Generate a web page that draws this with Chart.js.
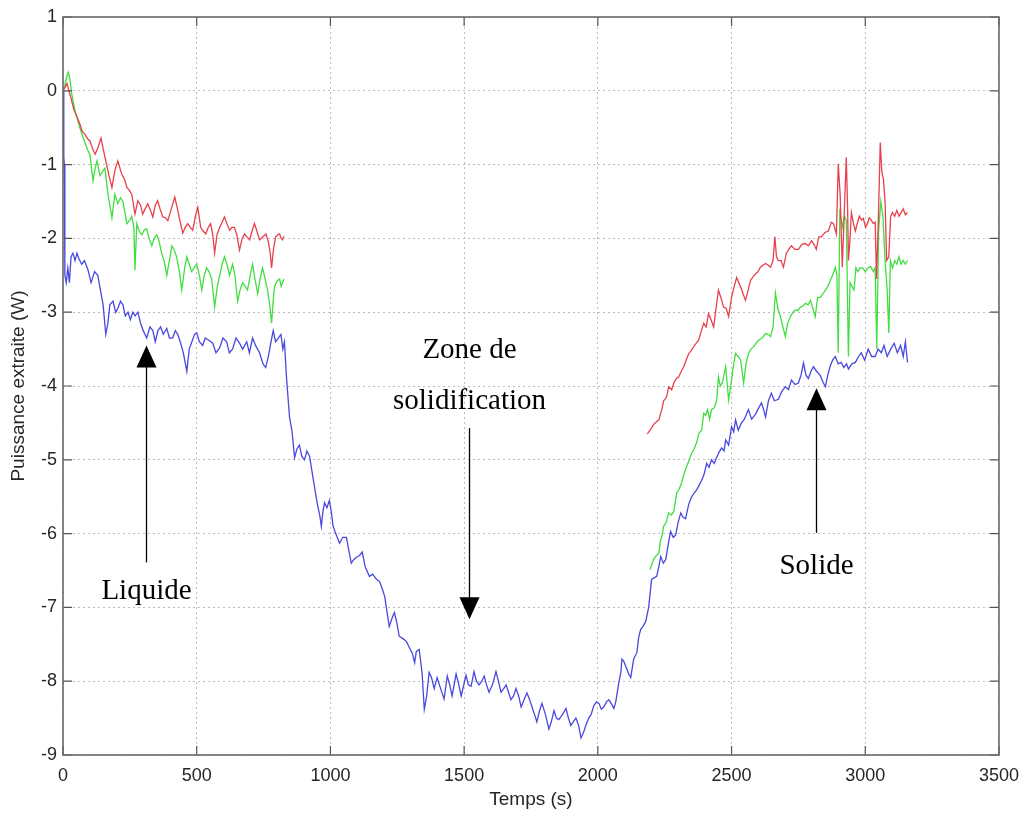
<!DOCTYPE html>
<html>
<head>
<meta charset="utf-8">
<script src="https://cdn.jsdelivr.net/npm/chart.js@4"></script>
<style>
  html, body { margin: 0; padding: 0; background: #fff; }
  canvas { display: block; }
</style>
</head>
<body>
<canvas id="chart" width="1029" height="815"></canvas>
<script>
// axis ticks
const xTicks = [0, 500, 1000, 1500, 2000, 2500, 3000, 3500];
const yTicks = [-9, -8, -7, -6, -5, -4, -3, -2, -1, 0, 1];

// blue curve (one piece)
const blueT = [0,3,5,7,12,18,24,30,37,45,52,60,70,80,93,105,118,130,140,150,160,168,175,187,197,205,215,224,233,243,252,261,270,280,290,300,313,325,336,345,355,365,375,388,398,410,420,429,440,450,463,472,482,492,500,510,522,532,545,560,572,586,598,612,622,634,647,660,672,687,697,709,720,735,748,758,768,778,786,795,805,815,822,828,836,847,856,866,875,884,893,903,912,922,933,942,951,960,966,972,978,987,996,1003,1010,1020,1034,1046,1060,1070,1078,1088,1097,1108,1119,1130,1146,1158,1172,1184,1194,1203,1209,1220,1230,1239,1248,1257,1270,1284,1296,1306,1315,1321,1332,1343,1351,1360,1369,1378,1388,1399,1412,1425,1437,1446,1455,1470,1480,1489,1507,1516,1526,1537,1546,1556,1566,1575,1584,1593,1606,1619,1628,1638,1648,1657,1666,1675,1685,1694,1704,1713,1724,1735,1745,1754,1763,1772,1782,1791,1804,1817,1826,1836,1845,1854,1868,1881,1890,1899,1908,1918,1928,1937,1946,1955,1966,1975,1985,1995,2004,2013,2022,2032,2041,2050,2060,2067,2078,2086,2090,2097,2108,2115,2123,2134,2146,2153,2160,2170,2179,2190,2201,2210,2220,2228,2235,2245,2254,2263,2272,2282,2291,2300,2310,2319,2328,2340,2351,2360,2369,2378,2388,2397,2407,2416,2425,2435,2444,2453,2463,2472,2478,2489,2500,2508,2515,2525,2537,2548,2563,2575,2590,2601,2612,2620,2627,2638,2649,2660,2675,2687,2701,2713,2724,2737,2750,2760,2769,2778,2787,2797,2806,2818,2832,2842,2851,2860,2869,2878,2888,2899,2910,2920,2930,2937,2950,2963,2975,2985,2998,3011,3024,3037,3048,3060,3070,3082,3095,3108,3120,3132,3142,3150,3158];
const blueV = [0,-0.9,-1.0,-2.5,-2.6,-2.4,-2.6,-2.25,-2.2,-2.3,-2.2,-2.28,-2.35,-2.3,-2.42,-2.6,-2.45,-2.5,-2.7,-2.9,-3.3,-3.15,-2.9,-2.85,-3.0,-2.95,-2.85,-2.9,-3.05,-3.0,-3.1,-3.0,-3.05,-3.0,-3.15,-3.25,-3.35,-3.2,-3.25,-3.4,-3.25,-3.2,-3.3,-3.22,-3.35,-3.35,-3.25,-3.3,-3.42,-3.55,-3.8,-3.5,-3.4,-3.3,-3.28,-3.4,-3.45,-3.35,-3.38,-3.42,-3.55,-3.48,-3.35,-3.4,-3.55,-3.5,-3.35,-3.42,-3.5,-3.4,-3.55,-3.35,-3.45,-3.55,-3.7,-3.75,-3.6,-3.4,-3.25,-3.4,-3.35,-3.3,-3.5,-3.4,-3.9,-4.42,-4.6,-4.97,-4.85,-4.8,-4.95,-5.0,-4.88,-4.95,-5.2,-5.4,-5.6,-5.75,-5.9,-5.7,-5.58,-5.65,-5.55,-5.7,-5.9,-6.0,-6.13,-6.05,-6.05,-6.25,-6.4,-6.35,-6.32,-6.3,-6.25,-6.45,-6.58,-6.55,-6.62,-6.65,-6.75,-6.85,-7.0,-7.26,-7.15,-7.07,-7.2,-7.39,-7.42,-7.46,-7.55,-7.62,-7.75,-7.6,-7.57,-7.9,-8.38,-8.2,-7.88,-7.95,-8.1,-7.95,-8.1,-8.24,-7.93,-8.05,-8.2,-7.9,-8.05,-8.2,-7.92,-8.05,-8.07,-7.87,-8.0,-8.05,-8.0,-7.93,-8.05,-8.15,-8.05,-7.87,-8.0,-8.15,-8.1,-8.05,-8.15,-8.25,-8.2,-8.1,-8.2,-8.35,-8.25,-8.16,-8.25,-8.35,-8.45,-8.55,-8.4,-8.3,-8.45,-8.65,-8.55,-8.4,-8.5,-8.52,-8.45,-8.37,-8.5,-8.6,-8.55,-8.5,-8.6,-8.77,-8.7,-8.6,-8.5,-8.45,-8.33,-8.28,-8.3,-8.38,-8.35,-8.28,-8.25,-8.3,-8.37,-8.28,-8.03,-7.88,-7.7,-7.73,-7.83,-7.9,-7.95,-7.7,-7.61,-7.4,-7.3,-7.25,-7.19,-7.0,-6.62,-6.6,-6.58,-6.45,-6.31,-6.4,-6.35,-6.15,-5.97,-6.05,-6.02,-5.85,-5.72,-5.78,-5.8,-5.6,-5.5,-5.45,-5.41,-5.35,-5.28,-5.2,-5.05,-5.1,-5.0,-5.05,-4.97,-4.9,-4.84,-4.88,-4.73,-4.8,-4.55,-4.62,-4.46,-4.6,-4.5,-4.45,-4.32,-4.45,-4.38,-4.3,-4.23,-4.32,-4.42,-4.2,-4.1,-4.2,-4.18,-4.08,-4.01,-4.05,-3.92,-3.98,-3.96,-3.85,-3.69,-3.85,-3.9,-3.8,-3.74,-3.8,-3.86,-3.95,-4.01,-3.85,-3.73,-3.65,-3.6,-3.7,-3.68,-3.75,-3.7,-3.77,-3.7,-3.68,-3.6,-3.55,-3.65,-3.5,-3.6,-3.6,-3.5,-3.55,-3.45,-3.6,-3.5,-3.42,-3.55,-3.45,-3.6,-3.4,-3.68];

// green curve, liquid part then solid part
const greenT1 = [0,8,15,20,26,33,45,55,63,72,82,92,101,112,120,127,138,147,157,168,183,194,205,215,224,239,250,257,265,269,276,285,295,305,313,322,332,341,351,360,369,378,388,398,407,415,425,435,444,455,463,472,481,490,500,510,519,528,537,546,556,567,577,586,595,604,613,623,634,643,653,662,672,681,690,700,709,718,728,737,746,756,765,773,780,786,791,800,810,816,821,826];
const greenV1 = [0,0.1,0.2,0.25,0.15,-0.05,-0.27,-0.4,-0.5,-0.6,-0.7,-0.8,-0.87,-1.22,-1.05,-0.95,-1.15,-1.1,-1.05,-1.4,-1.72,-1.4,-1.53,-1.45,-1.5,-1.8,-1.75,-1.7,-1.85,-2.43,-1.8,-1.9,-1.95,-1.88,-1.87,-2.0,-2.1,-2.0,-1.95,-2.05,-2.2,-2.3,-2.5,-2.3,-2.1,-2.15,-2.25,-2.45,-2.7,-2.4,-2.25,-2.35,-2.45,-2.4,-2.35,-2.5,-2.7,-2.5,-2.4,-2.45,-2.55,-2.93,-2.65,-2.5,-2.35,-2.25,-2.35,-2.5,-2.35,-2.5,-2.85,-2.7,-2.6,-2.65,-2.7,-2.5,-2.35,-2.55,-2.75,-2.55,-2.4,-2.55,-2.7,-2.9,-3.15,-2.85,-2.65,-2.58,-2.55,-2.65,-2.6,-2.55];
const greenT2 = [2195,2203,2209,2218,2228,2234,2239,2246,2255,2265,2275,2284,2295,2304,2313,2322,2332,2342,2351,2360,2369,2378,2388,2396,2403,2410,2418,2425,2435,2444,2451,2458,2466,2478,2489,2500,2508,2515,2525,2534,2545,2554,2563,2573,2582,2592,2601,2614,2627,2637,2646,2655,2664,2673,2683,2692,2701,2710,2720,2730,2739,2748,2757,2766,2776,2786,2795,2804,2813,2822,2832,2842,2851,2860,2869,2878,2888,2894,2899,2905,2914,2922,2929,2937,2943,2950,2958,2965,2972,2980,2990,3000,3010,3020,3030,3037,3043,3050,3058,3066,3074,3082,3088,3094,3102,3110,3118,3126,3134,3142,3150,3158];
const greenV2 = [-6.49,-6.4,-6.35,-6.3,-6.27,-6.1,-6.04,-5.9,-5.85,-5.72,-5.75,-5.7,-5.45,-5.4,-5.31,-5.2,-5.09,-5.0,-4.91,-4.85,-4.77,-4.64,-4.6,-4.37,-4.4,-4.32,-4.45,-4.32,-4.3,-4.2,-3.88,-4.0,-3.95,-3.74,-4.19,-3.92,-3.7,-3.56,-3.6,-3.65,-3.96,-3.7,-3.56,-3.5,-3.47,-3.42,-3.38,-3.35,-3.29,-3.3,-3.33,-3.2,-2.74,-2.95,-3.06,-3.2,-3.33,-3.15,-3.06,-3.0,-2.97,-2.98,-2.93,-2.92,-2.88,-2.9,-2.84,-2.95,-3.06,-2.8,-2.8,-2.75,-2.7,-2.65,-2.57,-2.5,-2.39,-2.5,-3.55,-1.6,-1.85,-1.7,-1.75,-3.6,-2.6,-2.65,-2.7,-2.4,-2.45,-2.4,-2.4,-2.45,-2.4,-2.38,-2.45,-2.4,-3.5,-1.9,-1.5,-1.7,-2.3,-2.7,-3.28,-2.3,-2.4,-2.3,-2.35,-2.25,-2.35,-2.3,-2.35,-2.3];

// red curve, liquid part then solid part
const redT1 = [0,8,15,22,30,40,50,63,72,82,92,101,110,120,131,142,151,160,172,183,194,205,213,220,230,239,248,257,269,280,290,298,307,317,327,336,345,354,363,373,383,392,405,418,428,437,448,457,466,476,485,495,504,515,524,534,543,552,560,567,576,586,595,604,613,623,632,641,650,660,670,679,688,698,707,716,725,735,747,759,768,775,780,787,795,803,810,816,821,826];
const redV1 = [0,0.05,0.1,0,-0.1,-0.25,-0.33,-0.45,-0.55,-0.59,-0.65,-0.68,-0.78,-0.86,-0.77,-0.64,-0.8,-0.95,-1.15,-1.31,-1.08,-0.95,-1.05,-1.13,-1.2,-1.31,-1.35,-1.4,-1.67,-1.49,-1.55,-1.67,-1.6,-1.53,-1.62,-1.71,-1.55,-1.49,-1.6,-1.71,-1.72,-1.76,-1.6,-1.44,-1.6,-1.76,-1.93,-1.85,-1.8,-1.85,-1.89,-1.7,-1.58,-1.85,-1.9,-1.94,-1.85,-1.8,-1.95,-2.2,-1.95,-1.85,-1.78,-1.71,-1.8,-1.89,-1.85,-1.85,-1.95,-2.16,-2.0,-1.94,-1.98,-2.02,-1.9,-1.8,-1.9,-2.02,-1.98,-1.94,-2.05,-2.2,-2.4,-2.15,-1.98,-1.95,-1.94,-2.0,-2.02,-1.97];
const redT2 = [2185,2195,2209,2220,2228,2239,2246,2257,2265,2276,2284,2293,2302,2312,2321,2330,2340,2349,2358,2368,2377,2387,2396,2405,2414,2423,2433,2442,2451,2460,2470,2480,2489,2500,2510,2519,2527,2534,2543,2552,2562,2571,2580,2590,2599,2608,2618,2627,2636,2646,2655,2662,2668,2675,2685,2694,2705,2714,2724,2737,2750,2763,2776,2787,2799,2808,2817,2826,2836,2849,2862,2873,2881,2892,2899,2906,2914,2922,2929,2934,2937,2943,2948,2956,2963,2970,2978,2986,2993,3001,3008,3015,3022,3030,3037,3042,3050,3056,3062,3068,3074,3080,3088,3095,3102,3110,3118,3126,3134,3142,3150,3158];
const redV2 = [-4.65,-4.6,-4.52,-4.48,-4.46,-4.32,-4.2,-4.15,-4.01,-4.05,-3.96,-3.9,-3.88,-3.8,-3.74,-3.65,-3.56,-3.52,-3.47,-3.42,-3.38,-3.25,-3.15,-3.2,-3.02,-3.1,-3.2,-2.95,-2.7,-2.8,-2.93,-2.95,-3.06,-2.8,-2.65,-2.53,-2.6,-2.66,-2.75,-2.84,-2.7,-2.57,-2.52,-2.48,-2.45,-2.39,-2.36,-2.34,-2.36,-2.39,-2.3,-1.98,-2.25,-2.3,-2.3,-2.39,-2.2,-2.15,-2.1,-2.15,-2.15,-2.08,-2.07,-2.1,-2.03,-2.08,-2.15,-1.98,-1.98,-1.92,-1.9,-1.78,-1.8,-1.94,-0.99,-1.4,-2.39,-1.6,-0.9,-1.6,-2.3,-2.0,-1.65,-1.8,-1.9,-1.8,-1.7,-1.75,-1.73,-1.85,-1.8,-1.72,-1.75,-1.8,-1.78,-2.55,-1.6,-0.7,-1.1,-1.2,-1.5,-2.3,-2.25,-1.7,-1.65,-1.7,-1.62,-1.7,-1.65,-1.6,-1.68,-1.65];

// text labels with arrows: x, text baseline(s), arrow tail and tip (data units)
const notes = [
  { x: 310, lines: ['Liquide'], base: [-6.89], from: -6.39, to: -3.45 },
  { x: 1519, lines: ['Zone de', 'solidification'], base: [-3.62, -4.31], from: -4.57, to: -7.16 },
  { x: 2817, lines: ['Solide'], base: [-6.55], from: -5.99, to: -4.03 }
];

function toPoints(tArr, vArr) {
  return tArr.map((t, i) => ({ x: t, y: vArr[i] }));
}
function joinPieces(a, b) {
  // null point breaks the line between the two pieces
  return a.concat([{ x: (a[a.length - 1].x + b[0].x) / 2, y: null }], b);
}

const framePlugin = {
  id: 'frame',
  afterDatasetsDraw(chart) {
    const ctx = chart.ctx;
    const a = chart.chartArea;
    const xs = chart.scales.x, ys = chart.scales.y;
    ctx.save();

    // notes and arrows
    ctx.fillStyle = '#000';
    ctx.strokeStyle = '#000';
    ctx.font = '29px "Liberation Serif", "Times New Roman", serif';
    ctx.textAlign = 'center';
    ctx.textBaseline = 'alphabetic';
    notes.forEach(n => {
      const px = Math.round(xs.getPixelForValue(n.x)) + 0.5;
      n.lines.forEach((s, i) => ctx.fillText(s, px, ys.getPixelForValue(n.base[i])));
      const y0 = ys.getPixelForValue(n.from);
      const y1 = ys.getPixelForValue(n.to);
      const dir = y1 < y0 ? 1 : -1;
      ctx.lineWidth = 1.3;
      ctx.beginPath();
      ctx.moveTo(px, y0);
      ctx.lineTo(px, y1 + dir * 20);
      ctx.stroke();
      ctx.beginPath();
      ctx.moveTo(px, y1);
      ctx.lineTo(px - 10, y1 + dir * 22);
      ctx.lineTo(px + 10, y1 + dir * 22);
      ctx.closePath();
      ctx.fill();
    });

    // inward ticks on all four sides
    ctx.strokeStyle = '#555';
    ctx.lineWidth = 1.2;
    ctx.beginPath();
    xTicks.forEach(v => {
      const p = xs.getPixelForValue(v);
      ctx.moveTo(p, a.bottom); ctx.lineTo(p, a.bottom - 9);
      ctx.moveTo(p, a.top); ctx.lineTo(p, a.top + 9);
    });
    yTicks.forEach(v => {
      const p = ys.getPixelForValue(v);
      ctx.moveTo(a.left, p); ctx.lineTo(a.left + 9, p);
      ctx.moveTo(a.right, p); ctx.lineTo(a.right - 9, p);
    });
    ctx.stroke();

    // box
    ctx.strokeStyle = '#6a6a6a';
    ctx.lineWidth = 1.6;
    ctx.strokeRect(a.left, a.top, a.right - a.left, a.bottom - a.top);
    ctx.restore();
  }
};

const tickFont = { family: '"Liberation Sans", Arial, sans-serif', size: 18 };
const grid = { color: '#bdbdbd', lineWidth: 1, drawTicks: false };
// in Chart.js 4 the dash of the grid lines lives under border
const border = { display: false, dash: [2, 3] };

new Chart(document.getElementById('chart'), {
  type: 'line',
  data: {
    datasets: [
      { label: 'rouge', data: joinPieces(toPoints(redT1, redV1), toPoints(redT2, redV2)), borderColor: 'rgb(232,64,76)' },
      { label: 'vert', data: joinPieces(toPoints(greenT1, greenV1), toPoints(greenT2, greenV2)), borderColor: 'rgb(64,222,64)' },
      { label: 'bleu', data: toPoints(blueT, blueV), borderColor: 'rgb(72,72,222)' }
    ]
  },
  options: {
    responsive: false,
    animation: false,
    spanGaps: false,
    layout: { padding: { left: 0, top: 17, right: 26, bottom: 0 } },
    elements: {
      point: { radius: 0 },
      line: { borderWidth: 1.3, tension: 0, fill: false }
    },
    plugins: { legend: { display: false }, tooltip: { enabled: false } },
    scales: {
      x: {
        type: 'linear', min: 0, max: 3500,
        afterBuildTicks: s => { s.ticks = xTicks.map(v => ({ value: v })); },
        afterFit: s => { s.height = 60; },
        ticks: { font: tickFont, color: '#262626', padding: 10, maxRotation: 0, callback: v => String(v) },
        grid: grid,
        border: border,
        title: { display: true, text: 'Temps (s)', font: { family: tickFont.family, size: 19 }, color: '#262626', padding: { top: 0, bottom: 4 } }
      },
      y: {
        type: 'linear', min: -9, max: 1,
        afterBuildTicks: s => { s.ticks = yTicks.map(v => ({ value: v })); },
        afterFit: s => { s.width = 63; },
        ticks: { font: tickFont, color: '#262626', padding: 6, callback: v => String(v) },
        grid: grid,
        border: border,
        title: { display: true, text: 'Puissance extraite (W)', font: { family: tickFont.family, size: 19 }, color: '#262626', padding: { top: 7, bottom: 0 } }
      }
    }
  },
  plugins: [framePlugin]
});
</script>
</body>
</html>
